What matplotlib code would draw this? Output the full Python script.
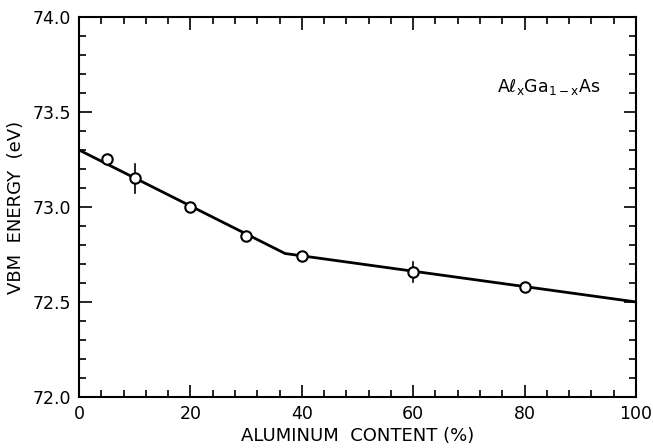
import numpy as np
import matplotlib.pyplot as plt
from matplotlib.ticker import MultipleLocator

# measured points
al_pct = [5, 10, 20, 30, 40, 60, 80]
vbm = [73.25, 73.15, 73.00, 72.845, 72.74, 72.658, 72.578]
vbm_err = [0, 0.075, 0, 0, 0, 0.052, 0]

# fitted line (two straight segments)
fit_x = [0, 37, 100]
fit_y = [73.30, 72.755, 72.50]

plt.rcParams['font.family'] = 'DejaVu Sans'

fig = plt.figure(figsize=(6.53, 4.48), dpi=100)
ax = fig.add_axes([0.121, 0.114, 0.853, 0.848])

ax.plot(fit_x, fit_y, 'k-', lw=2.0, zorder=2)

err = np.array(vbm_err)
for xi, yi, ei in zip(al_pct, vbm, err):
    if ei > 0:
        ax.plot([xi, xi], [yi - ei, yi + ei], 'k-', lw=1.2, zorder=2)
ax.plot(al_pct, vbm, 'o', ms=7.5, mfc='white', mec='k', mew=1.5, zorder=3)

ax.set_xlim(0, 100)
ax.set_ylim(72.0, 74.0)
ax.xaxis.set_major_locator(MultipleLocator(20))
ax.xaxis.set_minor_locator(MultipleLocator(4))
ax.yaxis.set_minor_locator(MultipleLocator(0.1))
ax.set_yticks([72.0, 72.5, 73.0, 73.5, 74.0])
ax.set_yticklabels(['72.0', '72.5', '73.0', '73.5', '74.0'])

ax.tick_params(which='both', direction='in', top=True, right=True,
               width=1.2, labelsize=12.5, pad=6)
ax.tick_params(which='major', length=9)
ax.tick_params(which='minor', length=5)
for s in ax.spines.values():
    s.set_linewidth(1.5)

ax.set_xlabel('ALUMINUM  CONTENT (%)', fontsize=13, labelpad=3)
ax.set_ylabel('VBM  ENERGY  (eV)', fontsize=13, labelpad=5)

ax.text(0.75, 0.815, r'A$\ell_\mathregular{x}$Ga$_\mathregular{1-x}$As',
        transform=ax.transAxes, fontsize=12.5, va='center')

fig.savefig('out.png', dpi=100)
